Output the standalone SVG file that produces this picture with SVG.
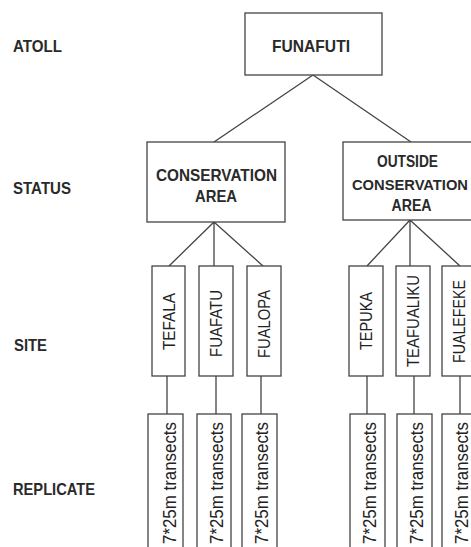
<svg xmlns="http://www.w3.org/2000/svg" width="471" height="547" viewBox="0 0 471 547">
<style>
.box{fill:#fff;stroke:#444;stroke-width:1.3}
.ln{stroke:#444;stroke-width:1.3;fill:none}
.lab{font-family:"Liberation Sans",Arial,sans-serif;font-weight:bold;font-size:16.5px;fill:#2a2a2a}
.bt{font-family:"Liberation Sans",Arial,sans-serif;font-weight:bold;font-size:16.5px;fill:#2a2a2a;text-anchor:middle}
.st{font-family:"Liberation Sans",Arial,sans-serif;font-size:16.5px;fill:#222;text-anchor:middle;dominant-baseline:central}
.rt{font-family:"Liberation Sans",Arial,sans-serif;font-size:17.5px;fill:#222;text-anchor:end}
</style>
<rect width="471" height="547" fill="#fff"/>
<g id="levels">
<text class="lab" x="13" y="52" textLength="49" lengthAdjust="spacingAndGlyphs">ATOLL</text>
<text class="lab" x="13" y="193.5" textLength="58" lengthAdjust="spacingAndGlyphs">STATUS</text>
<text class="lab" x="14" y="351" textLength="33" lengthAdjust="spacingAndGlyphs">SITE</text>
<text class="lab" x="13" y="495" textLength="82" lengthAdjust="spacingAndGlyphs">REPLICATE</text>
</g>
<g id="connectors">
<path class="ln" d="M313 75 L214 142 M313 75 L411 142"/>
<path class="ln" d="M214 222 L169 266 M214 222 L214 266 M214 222 L263 266"/>
<path class="ln" d="M410 220 L367 266 M410 220 L410 266 M410 220 L460 266"/>
<path class="ln" d="M167 376 V414 M216 376 V414 M261 376 V414 M367 376 V414 M414 376 V414 M460 376 V414"/>
</g>
<g id="funafuti"><rect class="box" x="245" y="13" width="137" height="62"/><text class="bt" x="311" y="52" textLength="78" lengthAdjust="spacingAndGlyphs">FUNAFUTI</text></g>
<g id="conservation"><rect class="box" x="147" y="142" width="138" height="80"/><text class="bt" x="216.5" y="181" textLength="121" lengthAdjust="spacingAndGlyphs">CONSERVATION</text><text class="bt" x="216" y="201.5" textLength="42" lengthAdjust="spacingAndGlyphs">AREA</text></g>
<g id="outside"><rect class="box" x="343" y="142" width="138" height="78"/><text class="bt" x="407.5" y="166.5" textLength="61" lengthAdjust="spacingAndGlyphs">OUTSIDE</text><text class="bt" x="410" y="189.5" style="font-size:15px" textLength="116" lengthAdjust="spacingAndGlyphs">CONSERVATION</text><text class="bt" x="411.5" y="211" textLength="40" lengthAdjust="spacingAndGlyphs">AREA</text></g>
<g id="tefala"><rect class="box" x="152" y="266" width="33" height="110"/><text class="st" transform="translate(169 321.5) rotate(-90)" textLength="57" lengthAdjust="spacingAndGlyphs">TEFALA</text></g>
<g id="fuafatu"><rect class="box" x="199" y="266" width="34" height="110"/><text class="st" transform="translate(216 323.5) rotate(-90)" textLength="67" lengthAdjust="spacingAndGlyphs">FUAFATU</text></g>
<g id="fualopa"><rect class="box" x="247" y="266" width="34" height="110"/><text class="st" transform="translate(264 324) rotate(-90)" textLength="68" lengthAdjust="spacingAndGlyphs">FUALOPA</text></g>
<g id="tepuka"><rect class="box" x="349" y="266" width="34" height="110"/><text class="st" transform="translate(366 321) rotate(-90)" textLength="58" lengthAdjust="spacingAndGlyphs">TEPUKA</text></g>
<g id="teafualiku"><rect class="box" x="396" y="266" width="34" height="110"/><text class="st" transform="translate(413 321) rotate(-90)" textLength="92" lengthAdjust="spacingAndGlyphs">TEAFUALIKU</text></g>
<g id="fualefeke"><rect class="box" x="442" y="266" width="34" height="110"/><text class="st" transform="translate(459 321.5) rotate(-90)" textLength="83" lengthAdjust="spacingAndGlyphs">FUALEFEKE</text></g>
<g id="rep1"><rect class="box" x="148" y="414" width="35" height="150"/><text class="rt" transform="translate(175.5 422) rotate(-90)" textLength="122" lengthAdjust="spacingAndGlyphs">7*25m transects</text></g>
<g id="rep2"><rect class="box" x="197" y="414" width="34" height="150"/><text class="rt" transform="translate(222.5 422) rotate(-90)" textLength="122" lengthAdjust="spacingAndGlyphs">7*25m transects</text></g>
<g id="rep3"><rect class="box" x="242" y="414" width="35" height="150"/><text class="rt" transform="translate(268 422) rotate(-90)" textLength="122" lengthAdjust="spacingAndGlyphs">7*25m transects</text></g>
<g id="rep4"><rect class="box" x="350" y="414" width="35" height="150"/><text class="rt" transform="translate(376 422) rotate(-90)" textLength="122" lengthAdjust="spacingAndGlyphs">7*25m transects</text></g>
<g id="rep5"><rect class="box" x="397" y="414" width="35" height="150"/><text class="rt" transform="translate(423 422) rotate(-90)" textLength="122" lengthAdjust="spacingAndGlyphs">7*25m transects</text></g>
<g id="rep6"><rect class="box" x="442" y="414" width="35" height="150"/><text class="rt" transform="translate(468 422) rotate(-90)" textLength="122" lengthAdjust="spacingAndGlyphs">7*25m transects</text></g>
</svg>
